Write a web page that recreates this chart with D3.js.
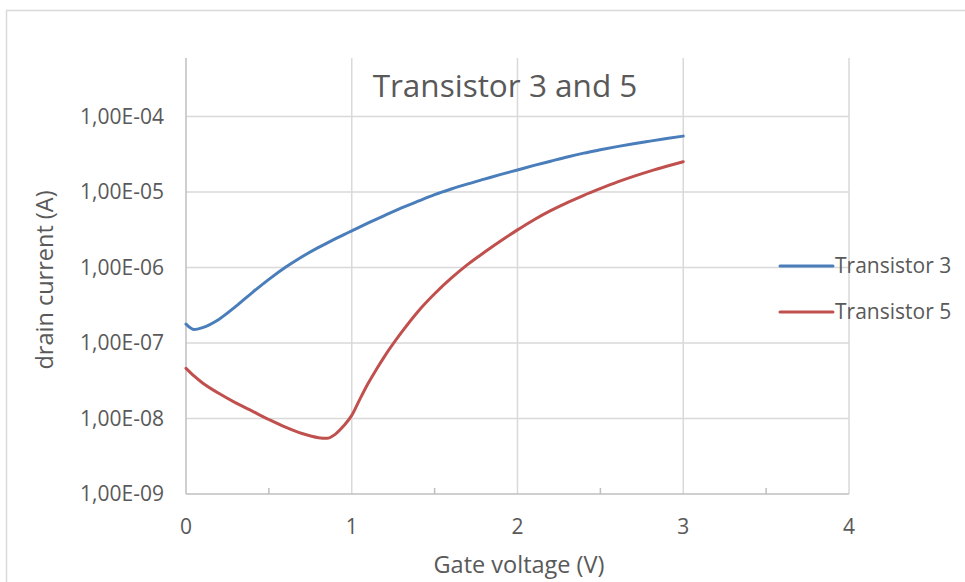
<!DOCTYPE html>
<html>
<head>
<meta charset="utf-8">
<script src="https://cdn.jsdelivr.net/npm/d3@7"></script>
<style>
  body { margin: 0; background: #fff; }
  text { font-family: "Open Sans", sans-serif; fill: #595959; }
</style>
</head>
<body>
<script>
// gate voltage samples (V)
const gateVoltage = [0, 0.05, 0.1, 0.2, 0.3, 0.4, 0.5, 0.6, 0.7, 0.8, 0.85, 0.9, 0.95, 1.0, 1.05, 1.1, 1.15,
  1.2, 1.3, 1.4, 1.5, 1.6, 1.7, 1.8, 1.9, 2.0, 2.1, 2.2, 2.3, 2.4, 2.5, 2.6, 2.7, 2.8, 2.9, 3.0];

// drain current (A)
const transistor3 = [1.78e-7, 1.51e-7, 1.60e-7, 2.07e-7, 3.05e-7, 4.66e-7, 6.97e-7, 1.007e-6, 1.39e-6, 1.85e-6,
  2.10e-6, 2.39e-6, 2.70e-6, 3.06e-6, 3.46e-6, 3.90e-6, 4.38e-6,
  4.91e-6, 6.14e-6, 7.55e-6, 9.23e-6, 1.096e-5, 1.28e-5, 1.48e-5, 1.71e-5, 1.96e-5, 2.25e-5, 2.56e-5, 2.91e-5,
  3.27e-5, 3.62e-5, 3.99e-5, 4.36e-5, 4.72e-5, 5.10e-5, 5.50e-5];
const transistor5 = [4.62e-8, 3.63e-8, 2.95e-8, 2.14e-8, 1.61e-8, 1.25e-8, 9.7e-9, 7.67e-9, 6.32e-9, 5.56e-9,
  5.47e-9, 6.17e-9, 7.94e-9, 1.10e-8, 1.82e-8, 2.95e-8, 4.52e-8,
  6.76e-8, 1.38e-7, 2.62e-7, 4.49e-7, 7.21e-7, 1.10e-6, 1.59e-6, 2.26e-6, 3.15e-6, 4.30e-6, 5.66e-6, 7.21e-6,
  9.04e-6, 1.11e-5, 1.35e-5, 1.61e-5, 1.89e-5, 2.19e-5, 2.52e-5];

const seriesNames = ["Transistor 3", "Transistor 5"];
const seriesColors = ["#4a7ebb", "#c0504d"];

const xTicks = [0, 1, 2, 3, 4];
const xMinorTicks = [0.5, 1.5, 2.5, 3.5];
const yTicks = [1e-9, 1e-8, 1e-7, 1e-6, 1e-5, 1e-4];
const yTickLabels = ["1,00E-09", "1,00E-08", "1,00E-07", "1,00E-06", "1,00E-05", "1,00E-04"];

const W = 965, H = 582;
const plot = { left: 186, right: 849, top: 58, bottom: 494 };

const svg = d3.select("body").append("svg")
  .attr("width", W)
  .attr("height", H);

// chart border
svg.append("rect")
  .attr("x", 6.5).attr("y", 10.5)
  .attr("width", 1000).attr("height", 640)
  .attr("fill", "none")
  .attr("stroke", "#d9d9d9")
  .attr("stroke-width", 1.5);

const x = d3.scaleLinear().domain([0, 4]).range([plot.left, plot.right]);
const y = d3.scaleLog().domain([1e-9, 1e-4]).range([plot.bottom, 116.5]);

// gridlines
svg.append("g").selectAll("line")
  .data(xTicks.slice(1))
  .join("line")
  .attr("x1", d => x(d)).attr("x2", d => x(d))
  .attr("y1", plot.top).attr("y2", plot.bottom)
  .attr("stroke", "#d9d9d9").attr("stroke-width", 1.5);

svg.append("g").selectAll("line")
  .data(yTicks.slice(1))
  .join("line")
  .attr("x1", plot.left).attr("x2", plot.right)
  .attr("y1", d => y(d)).attr("y2", d => y(d))
  .attr("stroke", "#d9d9d9").attr("stroke-width", 1.5);

// axis lines
svg.append("line")
  .attr("x1", plot.left).attr("x2", plot.left)
  .attr("y1", plot.top).attr("y2", plot.bottom)
  .attr("stroke", "#bfbfbf").attr("stroke-width", 1.5);
svg.append("line")
  .attr("x1", plot.left).attr("x2", plot.right)
  .attr("y1", plot.bottom).attr("y2", plot.bottom)
  .attr("stroke", "#bfbfbf").attr("stroke-width", 1.5);

// minor ticks on x axis
svg.append("g").selectAll("line")
  .data(xMinorTicks)
  .join("line")
  .attr("x1", d => x(d)).attr("x2", d => x(d))
  .attr("y1", plot.bottom - 6).attr("y2", plot.bottom)
  .attr("stroke", "#bfbfbf").attr("stroke-width", 1.5);

// tick labels
svg.append("g").selectAll("text")
  .data(xTicks)
  .join("text")
  .attr("x", d => x(d))
  .attr("y", 527)
  .attr("dy", "0.35em")
  .attr("text-anchor", "middle")
  .attr("font-size", 21)
  .text(d => d);

svg.append("g").selectAll("text")
  .data(yTicks)
  .join("text")
  .attr("x", 164)
  .attr("y", d => y(d))
  .attr("dy", "0.35em")
  .attr("text-anchor", "end")
  .attr("font-size", 21)
  .text((d, i) => yTickLabels[i]);

// titles
svg.append("text")
  .attr("x", 505).attr("y", 97)
  .attr("text-anchor", "middle")
  .attr("font-size", 31.5)
  .text("Transistor 3 and 5");

svg.append("text")
  .attr("x", 519).attr("y", 565)
  .attr("dy", "0.35em")
  .attr("text-anchor", "middle")
  .attr("font-size", 23.5)
  .text("Gate voltage (V)");

svg.append("text")
  .attr("transform", "translate(45,280) rotate(-90)")
  .attr("dy", "0.35em")
  .attr("text-anchor", "middle")
  .attr("font-size", 23.5)
  .text("drain current (A)");

// series lines
const line = d3.line()
  .x((d, i) => x(gateVoltage[i]))
  .y(d => y(d))
  .curve(d3.curveMonotoneX);

[transistor3, transistor5].forEach((values, k) => {
  svg.append("path")
    .datum(values)
    .attr("fill", "none")
    .attr("stroke", seriesColors[k])
    .attr("stroke-width", 3)
    .attr("stroke-linecap", "round")
    .attr("d", line);
});

// legend
const legend = svg.append("g").selectAll("g")
  .data(seriesNames)
  .join("g")
  .attr("transform", (d, i) => `translate(780, ${266 + i * 46})`);

legend.append("line")
  .attr("x1", 0).attr("x2", 53)
  .attr("stroke", (d, i) => seriesColors[i])
  .attr("stroke-width", 3)
  .attr("stroke-linecap", "round");

legend.append("text")
  .attr("x", 55)
  .attr("dy", "0.35em")
  .attr("font-size", 21)
  .text(d => d);
</script>
</body>
</html>
